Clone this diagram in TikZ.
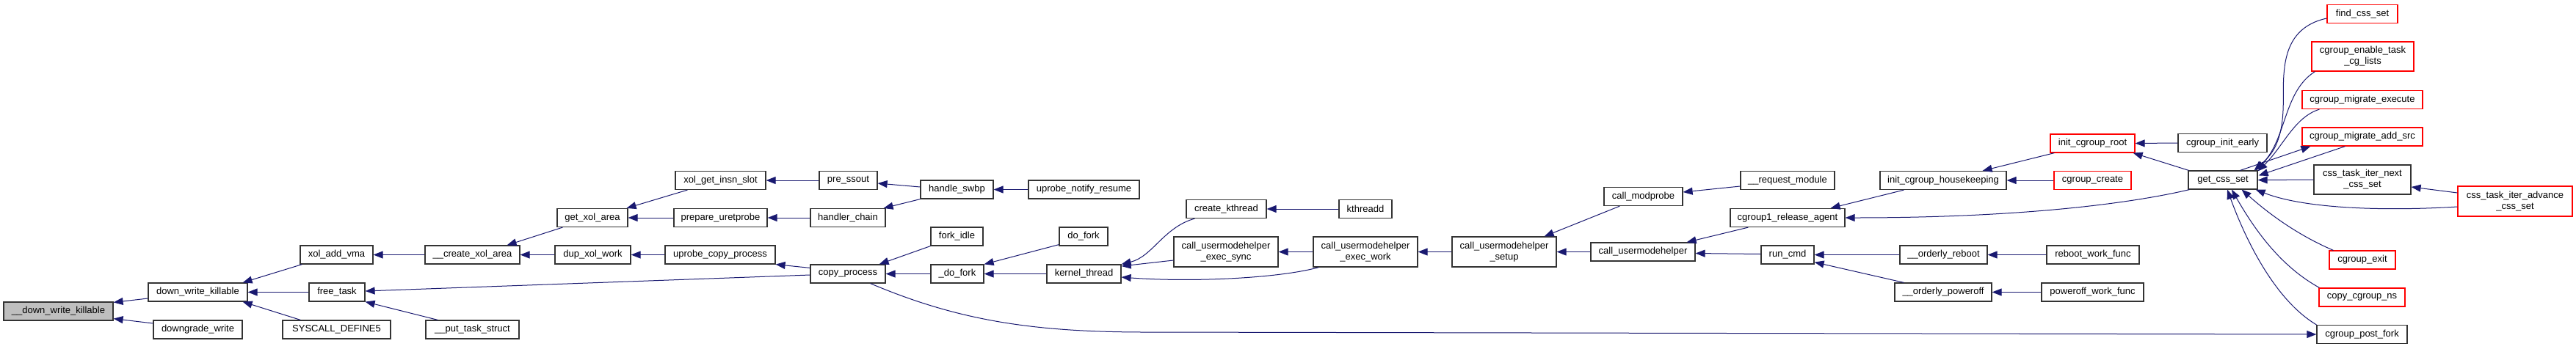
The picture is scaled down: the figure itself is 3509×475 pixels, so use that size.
\documentclass[tikz,border=0pt]{standalone}
\usepackage{fontspec}
\setmainfont{Liberation Sans}
\usetikzlibrary{arrows.meta,calc}
\definecolor{edgeblue}{HTML}{191970}
\definecolor{nodeborder}{HTML}{333333}
\definecolor{rootfill}{HTML}{BFBFBF}
\definecolor{trunc}{HTML}{FF0000}
\newcommand\mynode[6]{\node[#6, minimum width=#4pt, minimum height=#5pt] (#1) at (#2) {#3};}
\begin{document}
\begin{tikzpicture}[x=1pt,y=-1pt,
  box/.style={draw=nodeborder, fill=white, line width=1.2pt, inner sep=0pt, align=center, font=\fontsize{13pt}{15pt}\selectfont},
  rootbox/.style={box, fill=rootfill},
  redbox/.style={box, draw=trunc},
  e/.style={draw=edgeblue, line width=1pt, -{Triangle[length=13pt,width=10pt]}}]
\useasboundingbox (0,0) rectangle (3509,475);
% nodes
\mynode{n0}{79.5,424.5}{\_\_down\_write\_killable}{149}{25}{rootbox}
\mynode{n1}{269.5,398.5}{down\_write\_killable}{135}{25}{box}
\mynode{n2}{269.5,449.5}{downgrade\_write}{121}{25}{box}
\mynode{n3}{458.5,347.5}{xol\_add\_vma}{99}{25}{box}
\mynode{n4}{459,398.5}{free\_task}{76}{25}{box}
\mynode{n5}{458.5,449.5}{SYSCALL\_DEFINE5}{147}{25}{box}
\mynode{n6}{643.5,347.5}{\_\_create\_xol\_area}{129}{25}{box}
\mynode{n7}{643.5,449.5}{\_\_put\_task\_struct}{127}{25}{box}
\mynode{n8}{807,297}{get\_xol\_area}{96}{25}{box}
\mynode{n9}{807.5,347.5}{dup\_xol\_work}{103}{25}{box}
\mynode{n10}{981.5,246}{xol\_get\_insn\_slot}{123}{25}{box}
\mynode{n11}{981.5,297}{prepare\_uretprobe}{127}{25}{box}
\mynode{n12}{981,347.5}{uprobe\_copy\_process}{150}{25}{box}
\mynode{n13}{1155.5,246}{pre\_ssout}{79}{25}{box}
\mynode{n14}{1155,297}{handler\_chain}{102}{25}{box}
\mynode{n15}{1155,373.5}{copy\_process}{102}{25}{box}
\mynode{n16}{1303.5,258.5}{handle\_swbp}{99}{25}{box}
\mynode{n17}{1303.5,322.5}{fork\_idle}{71}{25}{box}
\mynode{n18}{1304,373.5}{\_do\_fork}{72}{25}{box}
\mynode{n19}{1476.5,258.5}{uprobe\_notify\_resume}{151}{25}{box}
\mynode{n20}{1476,322.5}{do\_fork}{66}{25}{box}
\mynode{n21}{1476.5,373.5}{kernel\_thread}{101}{25}{box}
\mynode{n22}{1670.5,285}{create\_kthread}{109}{25}{box}
\mynode{n23}{1670,343.5}{call\_usermodehelper\\\_exec\_sync}{142}{41}{box}
\mynode{n24}{1860,285}{kthreadd}{72}{25}{box}
\mynode{n25}{1860,343.5}{call\_usermodehelper\\\_exec\_work}{142}{41}{box}
\mynode{n26}{2049,343.5}{call\_usermodehelper\\\_setup}{142}{41}{box}
\mynode{n27}{2238.5,268}{call\_modprobe}{107}{25}{box}
\mynode{n28}{2238,343.5}{call\_usermodehelper}{142}{25}{box}
\mynode{n29}{2435,246}{\_\_request\_module}{128}{25}{box}
\mynode{n30}{2435,297}{cgroup1\_release\_agent}{156}{25}{box}
\mynode{n31}{2435,347.5}{run\_cmd}{72}{25}{box}
\mynode{n32}{2647,246}{init\_cgroup\_housekeeping}{172}{25}{box}
\mynode{n33}{2647.5,347.5}{\_\_orderly\_reboot}{119}{25}{box}
\mynode{n34}{2647,398.5}{\_\_orderly\_poweroff}{132}{25}{box}
\mynode{n35}{2850.5,195.5}{init\_cgroup\_root}{115}{25}{redbox}
\mynode{n36}{2850.5,246}{cgroup\_create}{105}{25}{redbox}
\mynode{n37}{2851,347.5}{reboot\_work\_func}{126}{25}{box}
\mynode{n38}{2850.5,398.5}{poweroff\_work\_func}{139}{25}{box}
\mynode{n39}{3027.5,195}{cgroup\_init\_early}{121}{25}{box}
\mynode{n40}{3028,245.5}{get\_css\_set}{94}{25}{box}
\mynode{n41}{3218,19}{find\_css\_set}{96}{25}{redbox}
\mynode{n42}{3218.5,77}{cgroup\_enable\_task\\\_cg\_lists}{139}{40}{redbox}
\mynode{n43}{3218,136}{cgroup\_migrate\_execute}{164}{25}{redbox}
\mynode{n44}{3218,186.5}{cgroup\_migrate\_add\_src}{164}{25}{redbox}
\mynode{n45}{3218,245}{css\_task\_iter\_next\\\_css\_set}{132}{40}{box}
\mynode{n46}{3426,274.5}{css\_task\_iter\_advance\\\_css\_set}{156}{41}{redbox}
\mynode{n47}{3218,354.5}{cgroup\_exit}{90}{25}{redbox}
\mynode{n48}{3217.5,405.5}{copy\_cgroup\_ns}{117}{25}{redbox}
\mynode{n49}{3217.5,456}{cgroup\_post\_fork}{123}{25}{box}
% edges
\draw[e] ($(n1.west)+(0,8.5)$) -- ($(n0.north east)+(0,1)$);
\draw[e] ($(n2.west)+(0,-8.5)$) -- ($(n0.south east)+(0,-3)$);
\draw[e] ($(n3.south west)+(3,0)$) -- ($(n1.north east)+(-7,0)$);
\draw[e] (n4.west) -- (n1.east);
\draw[e] ($(n5.north west)+(25,0)$) -- ($(n1.south east)+(-7,0)$);
\draw[e] (n6.west) -- (n3.east);
\draw[e] ($(n15.west)+(0,1.5)$) -- ($(n4.east)+(0,-1.5)$);
\draw[e] ($(n7.north west)+(17,0)$) -- (n4.south east);
\draw[e] ($(n8.south west)+(8,0)$) -- ($(n6.north east)+(-18,0)$);
\draw[e] (n9.west) -- (n6.east);
\draw[e] ($(n10.south west)+(17,0)$) -- ($(n8.north east)+(-2,0)$);
\draw[e] (n11.west) -- (n8.east);
\draw[e] (n12.west) -- (n9.east);
\draw[e] ($(n15.north west)+(0,5)$) -- (n12.south east);
\draw[e] (n13.west) -- (n10.east);
\draw[e] (n14.west) -- (n11.east);
\draw[e] ($(n16.west)+(0,-3.5)$) -- ($(n13.east)+(0,4)$);
\draw[e] (n16.south west) -- ($(n14.north east)+(-3,0)$);
\draw[e] (n19.west) -- (n16.east);
\draw[e] (n17.south west) -- ($(n15.north east)+(-9,0)$);
\draw[e] (n18.west) -- (n15.east);
\draw[e] ($(n20.south west)+(0,-2)$) -- (n18.north east);
\draw[e] (n21.west) -- (n18.east);
\draw[e] ($(n22.south west)+(12,0)$) .. controls (1585,310) and (1570,350) .. (n21.north east);
\draw[e] ($(n23.west)+(0,11.5)$) -- ($(n21.east)+(0,-10.5)$);
\draw[e] ($(n25.south west)+(8,0)$) .. controls (1740,380) and (1620,385) .. ($(n21.east)+(0,4.5)$);
\draw[e] (n24.west) -- (n22.east);
\draw[e] (n25.west) -- (n23.east);
\draw[e] (n26.west) -- (n25.east);
\draw[e] ($(n27.south west)+(22,0)$) -- ($(n26.north east)+(-17,0)$);
\draw[e] (n28.west) -- (n26.east);
\draw[e] ($(n29.west)+(0,8)$) -- ($(n27.east)+(0,-6)$);
\draw[e] ($(n30.south west)+(25,0)$) -- ($(n28.north east)+(-12,0)$);
\draw[e] ($(n31.west)+(0,-1)$) -- ($(n28.east)+(0,2)$);
\draw[e] ($(n32.south west)+(33,0)$) -- ($(n30.north east)+(-20,0)$);
\draw[e] ($(n40.south west)+(2,0)$) .. controls (2900,278) and (2750,297) .. (n30.east);
\draw[e] (n33.west) -- (n31.east);
\draw[e] ($(n34.north west)+(13,0)$) -- ($(n31.south east)+(0,-3)$);
\draw[e] ($(n35.south west)+(6,0)$) -- ($(n32.north east)+(-33,0)$);
\draw[e] (n36.west) -- (n32.east);
\draw[e] (n37.west) -- (n33.east);
\draw[e] (n38.west) -- (n34.east);
\draw[e] (n39.west) -- (n35.east);
\draw[e] ($(n40.north west)+(1,0)$) -- ($(n35.south east)+(-3,0)$);
\draw[e] ($(n41.west)+(0,6)$) .. controls (3100,40) and (3112,110) .. (3110,150) .. controls (3108,200) and (3090,215) .. ($(n40.north east)+(-5,0)$);
\draw[e] ($(n42.south west)+(5,0)$) .. controls (3110,125) and (3115,190) .. ($(n40.north east)+(-3,0)$);
\draw[e] ($(n43.south west)+(24,0)$) .. controls (3125,160) and (3110,200) .. ($(n40.north east)+(0,1)$);
\draw[e] ($(n44.south west)+(59,0)$) -- ($(n40.north east)+(1,7)$);
\draw[e] ($(n40.north east)+(-24,0)$) -- ($(n44.south west)+(12,0)$);
\draw[e] (n45.west) -- (n40.east);
\draw[e] ($(n46.west)+(0,-11.5)$) -- ($(n45.east)+(0,10)$);
\draw[e] ($(n46.west)+(0,7.5)$) .. controls (3250,288) and (3140,285) .. ($(n40.south east)+(-3,0)$);
\draw[e] ($(n47.north west)+(6,0)$) .. controls (3140,325) and (3100,300) .. ($(n40.south east)+(-22,0)$);
\draw[e] ($(n48.north west)+(1,0)$) .. controls (3110,365) and (3075,320) .. ($(n40.south)+(12,0)$);
\draw[e] (n49.north west) .. controls (3100,410) and (3060,330) .. ($(n40.south)+(6,0)$);
\draw[e] ($(n15.south east)+(-21,0)$) .. controls (1300,435) and (1400,453) .. (1560,453) -- (n49.west);
\end{tikzpicture}
\end{document}
